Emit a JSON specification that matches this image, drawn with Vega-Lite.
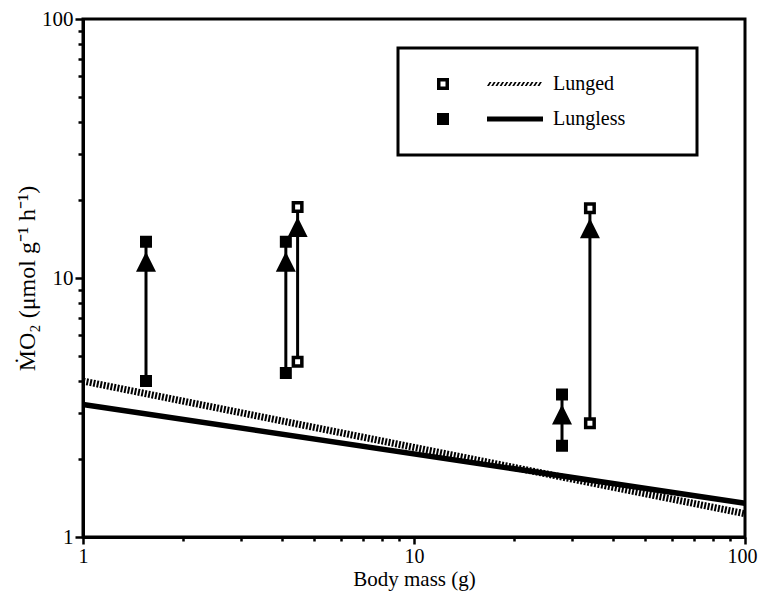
{
  "$schema": "https://vega.github.io/schema/vega-lite/v6.json",
  "width": 662,
  "height": 518,
  "autosize": {"type": "none"},
  "padding": {"left": 83, "top": 19, "right": 14, "bottom": 63},
  "background": "white",
  "config": {
    "view": {"stroke": "black", "strokeWidth": 3},
    "font": "Liberation Serif",
    "legend": {"strokeWidth": 3},
    "axis": {
      "domainColor": "black", "domainWidth": 3,
      "tickColor": "black", "tickWidth": 2.5,
      "labelColor": "black", "labelFont": "Liberation Serif", "labelFontSize": 21,
      "titleColor": "black", "titleFont": "Liberation Serif", "titleFontSize": 21, "titleFontWeight": "normal",
      "grid": false
    }
  },
  "datasets": {
    "pairs": [
      {"kind": "Lungless", "mass": 1.55, "low": 4.0, "high": 13.8},
      {"kind": "Lungless", "mass": 4.1, "low": 4.3, "high": 13.8},
      {"kind": "Lunged", "mass": 4.45, "low": 4.75, "high": 18.8},
      {"kind": "Lungless", "mass": 28, "low": 2.25, "high": 3.55},
      {"kind": "Lunged", "mass": 34, "low": 2.75, "high": 18.6}
    ],
    "fits": [
      {"group": "Lunged", "mass": 1, "mo2": 4.0},
      {"group": "Lunged", "mass": 100, "mo2": 1.23},
      {"group": "Lungless", "mass": 1, "mo2": 3.25},
      {"group": "Lungless", "mass": 100, "mo2": 1.35}
    ]
  },
  "layer": [
    {
      "data": {"name": "fits"},
      "transform": [{"filter": "datum.group == 'Lungless'"}],
      "mark": {"type": "line", "color": "black", "strokeWidth": 5.5, "strokeCap": "butt"},
      "encoding": {
        "x": {"field": "mass", "type": "quantitative",
          "scale": {"type": "log", "domain": [1, 100], "nice": false},
          "axis": {
            "title": "Body mass (g)",
            "labelFontSize": 20,
            "values": [1,2,3,4,5,6,7,8,9,10,20,30,40,50,60,70,80,90,100],
            "labelExpr": "(datum.value == 1 || datum.value == 10 || datum.value == 100) ? datum.label : ''",
            "labelOffset": {"condition": {"test": "datum.value == 100", "value": -3}, "value": 0},
            "tickSize": {"condition": {"test": "datum.value == 1 || datum.value == 10 || datum.value == 100", "value": 7}, "value": 4},
            "labelPadding": 2, "titlePadding": 2, "labelFlush": false, "labelOverlap": false
          }},
        "y": {"field": "mo2", "type": "quantitative",
          "scale": {"type": "log", "domain": [1, 100], "nice": false},
          "axis": {
            "title": "ṀO₂ (μmol g⁻¹ h⁻¹)",
            "titleFontSize": 24,
            "values": [1,2,3,4,5,6,7,8,9,10,20,30,40,50,60,70,80,90,100],
            "labelExpr": "(datum.value == 1 || datum.value == 10 || datum.value == 100) ? datum.label : ''",
            "tickSize": {"condition": {"test": "datum.value == 1 || datum.value == 10 || datum.value == 100", "value": 8}, "value": 5},
            "labelPadding": 2, "titlePadding": 2, "labelFlush": false, "labelOverlap": false
          }}
      }
    },
    {
      "data": {"name": "fits"},
      "transform": [{"filter": "datum.group == 'Lunged'"}],
      "mark": {"type": "line", "color": "black", "strokeWidth": 7, "strokeDash": [2, 1.5], "strokeCap": "butt"},
      "encoding": {
        "x": {"field": "mass", "type": "quantitative"},
        "y": {"field": "mo2", "type": "quantitative"}
      }
    },
    {
      "data": {"name": "pairs"},
      "mark": {"type": "rule", "color": "black", "strokeWidth": 3},
      "encoding": {
        "x": {"field": "mass", "type": "quantitative"},
        "y": {"field": "low", "type": "quantitative"},
        "y2": {"field": "high"}
      }
    },
    {
      "data": {"name": "pairs"},
      "mark": {"type": "point", "shape": "M0,-1L1,1L-1,1Z", "size": 400, "filled": true, "color": "black", "opacity": 1, "yOffset": 20},
      "encoding": {
        "x": {"field": "mass", "type": "quantitative"},
        "y": {"field": "high", "type": "quantitative"}
      }
    },
    {
      "data": {"name": "pairs"},
      "transform": [{"fold": ["low", "high"], "as": ["stage", "value"]}],
      "mark": {"type": "point", "shape": "square", "size": 72, "stroke": "black", "strokeWidth": 3.5, "opacity": 1},
      "encoding": {
        "x": {"field": "mass", "type": "quantitative"},
        "y": {"field": "value", "type": "quantitative"},
        "fill": {"field": "kind", "type": "nominal",
          "scale": {"range": ["white", "black"]},
          "legend": null}
      }
    },
    {
      "data": {"name": "fits"},
      "mark": {"type": "point", "size": 0, "filled": true, "color": "black"},
      "encoding": {
        "x": {"field": "mass", "type": "quantitative"},
        "y": {"field": "mo2", "type": "quantitative"},
        "shape": {"field": "group", "type": "nominal",
          "scale": {"domain": ["Lunged", "Lungless"],
            "range": [
              "M0.3,-0.6H1.5V0.6H0.3ZM0.65,-0.25V0.25H1.15V-0.25ZM5.3,0.2L5.5,0.2L5.75,-0.2L5.55,-0.2ZM5.72,0.2L5.92,0.2L6.17,-0.2L5.97,-0.2ZM6.14,0.2L6.34,0.2L6.59,-0.2L6.39,-0.2ZM6.56,0.2L6.76,0.2L7.01,-0.2L6.81,-0.2ZM6.98,0.2L7.18,0.2L7.43,-0.2L7.23,-0.2ZM7.4,0.2L7.6,0.2L7.85,-0.2L7.65,-0.2ZM7.82,0.2L8.02,0.2L8.27,-0.2L8.07,-0.2ZM8.24,0.2L8.44,0.2L8.69,-0.2L8.49,-0.2ZM8.66,0.2L8.86,0.2L9.11,-0.2L8.91,-0.2ZM9.08,0.2L9.28,0.2L9.53,-0.2L9.33,-0.2ZM9.5,0.2L9.7,0.2L9.95,-0.2L9.75,-0.2ZM9.92,0.2L10.12,0.2L10.37,-0.2L10.17,-0.2ZM10.34,0.2L10.54,0.2L10.79,-0.2L10.59,-0.2Z",
              "M0.3,-0.6H1.5V0.6H0.3ZM5.3,-0.25H10.9V0.25H5.3Z"
            ]},
          "legend": {
            "title": null,
            "orient": "none", "legendX": 315, "legendY": 29,
            "padding": 26, "strokeColor": "black",
            "symbolSize": 400, "symbolFillColor": "black", "symbolStrokeWidth": 0, "symbolOpacity": 1,
            "labelFont": "Liberation Serif", "labelFontSize": 20, "labelColor": "black", "labelOffset": 109, "labelLimit": 500,
            "rowPadding": 15,
            "labelExpr": "datum.label + '\u2800\u2800\u2800'",
            "encode": {"legend": {"update": {"strokeWidth": {"value": 3}}}}
          }}
      }
    }
  ]
}
